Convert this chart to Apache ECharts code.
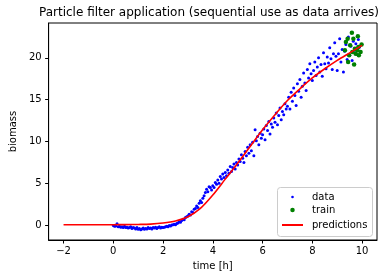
<!DOCTYPE html>
<html>
<head>
<meta charset="utf-8">
<script src="https://cdn.jsdelivr.net/npm/echarts@6/dist/echarts.min.js"></script>
<style>
html,body{margin:0;padding:0;background:#fff;}
#chart{width:387px;height:278px;}
</style>
</head>
<body>
<div id="chart"></div>
<script>
// observed data: sampled from t = 0 h every 0.05 h
const dataStart = 0;
const dataStep = 0.05;
const dataValues = [
  -0.05,-0.15,-0.1,0.15,-0.2,-0.15,-0.25,-0.2,-0.3,-0.15,-0.3,-0.25,-0.35,-0.3,-0.2,-0.4,-0.3,-0.35,-0.45,-0.3,
  -0.5,-0.4,-0.55,-0.45,-0.35,-0.5,-0.4,-0.45,-0.3,-0.4,-0.35,-0.45,-0.3,-0.35,-0.25,-0.4,-0.3,-0.2,-0.35,-0.25,
  -0.3,-0.25,-0.2,-0.15,-0.2,-0.05,-0.1,0.0,0.05,0.1,0.05,0.2,0.25,0.4,0.35,0.55,0.7,0.65,0.9,1.0,
  1.1,1.3,1.2,1.6,1.5,1.9,2.0,2.3,2.1,2.6,2.9,2.7,3.2,3.5,3.9,4.3,4.0,4.6,4.5,4.2,
  4.7,4.5,5.1,4.9,5.4,5.0,5.8,5.5,6.1,5.7,6.3,5.9,6.6,6.2,7.0,6.4,6.9,7.3,6.7,7.5,
  7.2,7.9,7.6,8.4,8.0,7.5,8.8,8.3,9.3,8.6,9.6,8.9,9.9,8.3,11.4,10.1,10.6,9.6,11.0,10.4,
  10.8,11.5,10.2,11.9,11.3,12.4,10.9,12.1,11.7,12.8,12.3,13.4,12.0,13.1,14.0,12.6,13.6,13.2,14.5,13.9,
  14.2,15.3,13.9,15.9,14.8,16.4,15.5,14.3,16.9,16.0,17.4,15.3,16.6,18.2,17.0,16.1,18.6,17.6,19.3,18.1,
  17.3,18.5,19.5,17.9,18.9,20.0,18.3,19.2,17.8,20.6,19.3,18.7,20.1,19.4,21.2,19.9,18.6,20.5,21.8,20.2,
  18.5,20.5,22.3,19.5,21.0,18.3,20.8,21.6,19.8,22.5,20.3,21.4,19.7,22.0,20.9,21.7,20.4,22.2,21.3
];
// training points (time, biomass)
const trainTimes = [9.31,9.35,9.42,9.44,9.48,9.52,9.59,9.61,9.65,9.68,9.71,9.74,9.81,9.83,9.85,9.87,9.94,9.98];
const trainValues = [20.9,21.9,22.3,19.5,20.3,21.5,23.0,20.7,22.3,19.2,21.1,20.5,20.9,22.6,21.3,20.3,20.7,21.6];
// predictions
const predTimes = [-2,-1.5,-1,-0.5,0,0.5,1,1.5,2,2.5,3,3.5,4,4.5,5,5.5,6,6.5,7,7.5,8,8.5,9,9.5,10];
const predValues = [0.05,0.05,0.05,0.05,0.05,0.06,0.08,0.12,0.25,0.5,1.0,2.0,3.6,5.5,7.4,9.4,11.4,13.2,14.9,16.3,17.6,18.7,19.7,20.6,21.5];
const xTicks = [-2,0,2,4,6,8,10];
const yTicks = [0,5,10,15,20];

const FONT = 'DejaVu Sans';
const dataPts = dataValues.map((v,i)=>[+(dataStart + i*dataStep).toFixed(2), v]);
const trainPts = trainTimes.map((t,i)=>[t, trainValues[i]]);
const predPts = predTimes.map((t,i)=>[t, predValues[i]]);
const fmt = v => String(v).replace('-', '\u2212');

const chart = echarts.init(document.getElementById('chart'), null, {renderer:'canvas'});
const ICON_W = 21;
const ICON_LEFT = 282;
const legendBase = {
  orient:'vertical', padding:0, itemGap:0,
  textStyle:{fontFamily:FONT, fontSize:10, color:'#000', padding:[0,0,0,4]},
  itemWidth:ICON_W, selectedMode:true
};
const dataDot = 2.6, trainDot = 4.5;
chart.setOption({
  animation:false,
  backgroundColor:'#fff',
  title:{
    text:'Particle filter application (sequential use as data arrives)',
    left:209, top:7, padding:0, textAlign:'center',
    textStyle:{fontFamily:FONT, fontSize:12, fontWeight:'normal', color:'#000'}
  },
  grid:{left:41, right:10, top:23, bottom:38, show:true, borderColor:'#000', borderWidth:1, backgroundColor:'transparent'},
  xAxis:{
    type:'value', min:-2.6, max:10.6,
    name:'time [h]', nameLocation:'middle', nameGap:21,
    nameTextStyle:{fontFamily:FONT, fontSize:10, color:'#000'},
    axisLine:{show:true, onZero:false, lineStyle:{color:'#000', width:1}},
    splitLine:{show:false},
    axisTick:{show:true, inside:false, length:3.5, customValues:xTicks, lineStyle:{color:'#000', width:1}},
    axisLabel:{customValues:xTicks, margin:6, fontFamily:FONT, fontSize:10, color:'#000', formatter:fmt}
  },
  yAxis:{
    type:'value', min:-1.78, max:24.17,
    name:'biomass', nameLocation:'middle', nameGap:26, nameRotate:90,
    nameTextStyle:{fontFamily:FONT, fontSize:10, color:'#000'},
    axisLine:{show:true, onZero:false, lineStyle:{color:'#000', width:1}},
    splitLine:{show:false},
    axisTick:{show:true, inside:false, length:3.5, customValues:yTicks, lineStyle:{color:'#000', width:1}},
    axisLabel:{customValues:yTicks, margin:7, fontFamily:FONT, fontSize:10, color:'#000', formatter:fmt}
  },
  graphic:[{
    type:'rect', left:277, top:187, z:50,
    shape:{width:95, height:49, r:3},
    style:{fill:'rgba(255,255,255,0.8)', stroke:'#cccccc', lineWidth:1}
  }],
  legend:[
    Object.assign({}, legendBase, {left:ICON_LEFT + ICON_W/2 - dataDot/2, top:192, itemHeight:dataDot, z:60, data:[{name:'data', icon:'circle', itemStyle:{opacity:1}}]}),
    Object.assign({}, legendBase, {left:ICON_LEFT + ICON_W/2 - trainDot/2, top:205, itemHeight:trainDot, z:60, data:[{name:'train', icon:'circle', itemStyle:{opacity:1}}]}),
    Object.assign({}, legendBase, {left:ICON_LEFT, top:220, itemHeight:2, z:60, data:[{name:'predictions', icon:'rect'}]})
  ],
  series:[
    {name:'data', type:'scatter', data:dataPts, symbol:'circle', symbolSize:3, itemStyle:{color:'#0000ff', opacity:1}, z:2},
    {name:'train', type:'scatter', data:trainPts, symbol:'circle', symbolSize:4.5, itemStyle:{color:'#008000', opacity:1}, z:3},
    {name:'predictions', type:'line', data:predPts, smooth:0.3, showSymbol:false, symbol:'none',
     lineStyle:{color:'#ff0000', width:1.6}, itemStyle:{color:'#ff0000'}, z:4}
  ]
});
</script>
</body>
</html>
